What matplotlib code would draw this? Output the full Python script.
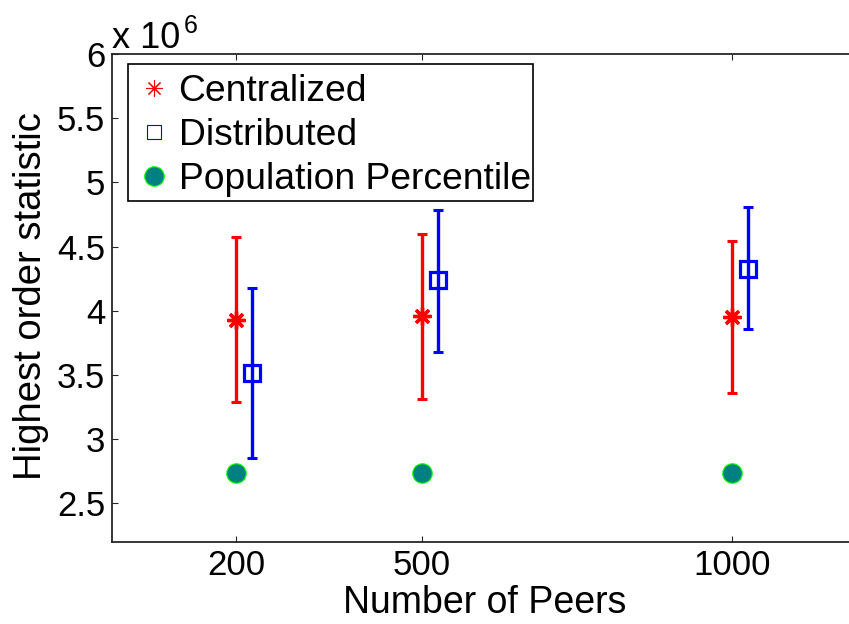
import numpy as np
import matplotlib
matplotlib.use('agg')
import matplotlib.pyplot as plt
from matplotlib.lines import Line2D
from matplotlib.patches import Rectangle

plt.rcParams['font.family'] = ['Liberation Sans', 'DejaVu Sans']

peers = np.array([200, 500, 1000])
dist_shift = 25  # distributed points are drawn slightly right of the tick

cent_mean = np.array([3.925, 3.956, 3.951]) * 1e6
cent_low = np.array([3.288, 3.310, 3.358]) * 1e6
cent_high = np.array([4.573, 4.600, 4.541]) * 1e6

dist_mean = np.array([3.514, 4.237, 4.328]) * 1e6
dist_low = np.array([2.854, 3.683, 3.855]) * 1e6
dist_high = np.array([4.175, 4.789, 4.809]) * 1e6

pop_pct = np.array([2.734, 2.734, 2.734]) * 1e6

yticks = np.arange(2.5, 6.01, 0.5)
ytick_labels = ['2.5', '3', '3.5', '4', '4.5', '5', '5.5', '6']

W, H = 849, 624
fig = plt.figure(figsize=(W / 100, H / 100), dpi=100)
ax = fig.add_axes([112 / W, 1 - 542 / H, 744 / W, 488 / H])

ax.errorbar(peers, cent_mean,
            yerr=[cent_mean - cent_low, cent_high - cent_mean],
            fmt='none', ecolor='#ff0000', elinewidth=2.4,
            capsize=3.6, capthick=2.2)
ax.plot(peers, cent_mean, linestyle='none', marker=(8, 2, 0),
        markersize=13, markeredgewidth=2.4, color='#ff0000')

ax.errorbar(peers + dist_shift, dist_mean,
            yerr=[dist_mean - dist_low, dist_high - dist_mean],
            fmt='none', ecolor='#0000ff', elinewidth=2.4,
            capsize=3.6, capthick=2.2)
ax.plot(peers + dist_shift, dist_mean, linestyle='none', marker='s',
        markersize=11.5, markeredgewidth=2.3, markerfacecolor='none',
        markeredgecolor='#0000ff')

ax.plot(peers, pop_pct, linestyle='none', marker='o', markersize=14,
        markerfacecolor='#008080', markeredgecolor='#00ff00',
        markeredgewidth=0.8)

ax.set_xlim(0, 1200)
ax.set_ylim(2.2e6, 6e6)
ax.set_xticks(peers)
ax.set_xticklabels([str(p) for p in peers])
ax.set_yticks(yticks * 1e6)
ax.set_yticklabels(ytick_labels)
ax.tick_params(direction='in', length=4.3, width=0.8, labelsize=25,
               top=True, right=True, colors='#262626', labelcolor='black')
ax.tick_params(axis='x', pad=5)
ax.tick_params(axis='y', pad=5)
for s in ax.spines.values():
    s.set_linewidth(1.3)
    s.set_color('#262626')

handles = [
    Line2D([], [], linestyle='none', marker=(8, 2, 0), markersize=12,
           markeredgewidth=0.8, color='#ff0000'),
    Line2D([], [], linestyle='none', marker='s', markersize=10,
           markeredgewidth=0.8, markerfacecolor='none',
           markeredgecolor='#0000ff'),
    Line2D([], [], linestyle='none', marker='o', markersize=14,
           markerfacecolor='#008080', markeredgecolor='#00ff00',
           markeredgewidth=0.8),
]
# legend text without frame, frame drawn as its own box (matlab-style padding)
fig.legend(handles, ['Centralized', 'Distributed', 'Population Percentile'],
           loc='upper left', bbox_to_anchor=(128 / W, 1 - 68 / H),
           fontsize=26.8, frameon=False, borderpad=0.15, handlelength=1.09,
           handletextpad=0.12, labelspacing=0.25, borderaxespad=0)
fig.add_artist(Rectangle((128 / W, 1 - 201 / H), 405 / W, 137 / H,
                         transform=fig.transFigure, fill=True,
                         facecolor='white', edgecolor='black',
                         linewidth=1.2, zorder=3))

fig.text(112 / W, 1 - 48 / H, 'x 10', fontsize=26, ha='left', va='baseline')
fig.text(184 / W, 1 - 33 / H, '6', fontsize=18, ha='left', va='baseline')

fig.text(485 / W, 1 - 613 / H, 'Number of Peers', fontsize=27,
         ha='center', va='baseline')
fig.text(31 / W, 1 - 296 / H, 'Highest order statistic', fontsize=27.5,
         rotation=90, ha='center', va='center')

fig.savefig('out.png', dpi=100)
